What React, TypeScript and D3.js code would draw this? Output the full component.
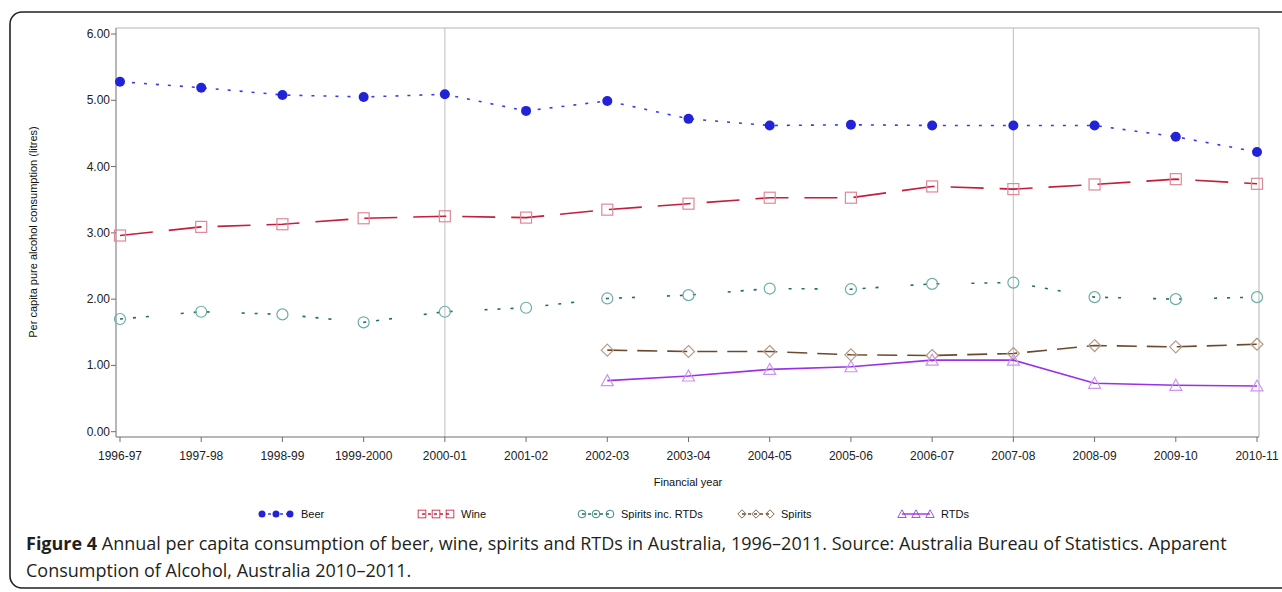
import React from "react";
import * as d3 from "d3";

// financial years on the x axis
const years = [
  "1996-97", "1997-98", "1998-99", "1999-2000", "2000-01", "2001-02", "2002-03", "2003-04",
  "2004-05", "2005-06", "2006-07", "2007-08", "2008-09", "2009-10", "2010-11",
];
const beer = [5.28, 5.19, 5.08, 5.05, 5.09, 4.84, 4.99, 4.72, 4.62, 4.63, 4.62, 4.62, 4.62, 4.45, 4.22];
const wine = [2.96, 3.09, 3.13, 3.22, 3.25, 3.23, 3.35, 3.44, 3.53, 3.53, 3.70, 3.66, 3.73, 3.81, 3.74];
const spiritsIncRtds = [1.70, 1.81, 1.77, 1.65, 1.81, 1.87, 2.01, 2.06, 2.16, 2.15, 2.23, 2.25, 2.03, 2.00, 2.03];
// spirits and RTDs start at 2002-03
const spirits = [null, null, null, null, null, null, 1.23, 1.21, 1.21, 1.16, 1.15, 1.18, 1.30, 1.28, 1.32];
const rtds = [null, null, null, null, null, null, 0.77, 0.84, 0.94, 0.98, 1.08, 1.08, 0.73, 0.70, 0.69];
const yTicks = [0, 1, 2, 3, 4, 5, 6];
const refYears = ["2000-01", "2007-08"];

const W = 1282;
const H = 592;
const plot = { left: 116, right: 1259, top: 28, bottom: 437 };

type Series = {
  name: string;
  values: (number | null)[];
  line: string;
  dash: string;
  marker: string;
  shape: "dot" | "square" | "circle" | "diamond" | "triangle";
  legendX: number;
};

const series: Series[] = [
  { name: "Beer", values: beer, line: "#3a3ae8", dash: "3 9", marker: "#2222d8", shape: "dot", legendX: 262 },
  { name: "Wine", values: wine, line: "#c41e3a", dash: "33 16", marker: "#e08898", shape: "square", legendX: 422 },
  { name: "Spirits inc. RTDs", values: spiritsIncRtds, line: "#1e6e68", dash: "3 10 3 10 3 32", marker: "#6aaea6", shape: "circle", legendX: 582 },
  { name: "Spirits", values: spirits, line: "#6b4a2e", dash: "20 10", marker: "#b89a86", shape: "diamond", legendX: 742 },
  { name: "RTDs", values: rtds, line: "#9b30e6", dash: "none", marker: "#cc95f2", shape: "triangle", legendX: 902 },
];

const Marker = ({ shape, x, y, color }: { shape: Series["shape"]; x: number; y: number; color: string }) => {
  if (shape === "dot") return <circle cx={x} cy={y} r={5} fill={color} />;
  if (shape === "circle") return <circle cx={x} cy={y} r={5.5} fill="none" stroke={color} strokeWidth={1.2} />;
  if (shape === "square")
    return <rect x={x - 5.5} y={y - 5.5} width={11} height={11} fill="none" stroke={color} strokeWidth={1.2} />;
  if (shape === "diamond")
    return <path d={`M${x},${y - 6}L${x + 6},${y}L${x},${y + 6}L${x - 6},${y}Z`} fill="none" stroke={color} strokeWidth={1.2} />;
  return <path d={`M${x},${y - 6}L${x + 6},${y + 5}L${x - 6},${y + 5}Z`} fill="none" stroke={color} strokeWidth={1.2} />;
};

export default function App() {
  const x = d3.scalePoint<string>().domain(years).range([120, 1257]);
  const y = d3.scaleLinear().domain([0, 6]).range([431.7, 34]);

  const line = d3
    .line<number | null>()
    .defined((d) => d !== null)
    .x((_, i) => x(years[i]) as number)
    .y((d) => y(d as number));

  const tickFont = { fontFamily: "'Liberation Sans', Arial, sans-serif", fontSize: 12, fill: "#222" };
  const smallFont = { fontFamily: "'Liberation Sans', Arial, sans-serif", fontSize: 11, fill: "#111" };
  const captionFont = { fontFamily: "'Open Sans', 'Noto Sans', sans-serif", fontSize: 18, fill: "#231f20" };
  const legendY = 514;

  return (
    <div style={{ position: "absolute", left: 0, top: 0 }}>
      <svg width={W} height={H} style={{ display: "block", background: "#fff" }}>
        {/* outer figure frame */}
        <rect x={10} y={12} width={1310} height={576} rx={12} fill="none" stroke="#222" strokeWidth={1.6} />

        {/* reference grid lines */}
        {refYears.map((yr) => (
          <line key={yr} x1={x(yr)} x2={x(yr)} y1={plot.top} y2={plot.bottom} stroke="#c8c8c8" strokeWidth={1.2} />
        ))}

        {/* plot frame */}
        <line x1={plot.left} x2={plot.right} y1={plot.top} y2={plot.top} stroke="#b4b4b4" />
        <line x1={plot.right} x2={plot.right} y1={plot.top} y2={plot.bottom} stroke="#b4b4b4" />
        <line x1={plot.left} x2={plot.left} y1={plot.top} y2={plot.bottom} stroke="#6e6e6e" />
        <line x1={plot.left} x2={plot.right} y1={plot.bottom} y2={plot.bottom} stroke="#6e6e6e" />

        {/* y axis */}
        {yTicks.map((t) => (
          <g key={t}>
            <line x1={plot.left - 5} x2={plot.left} y1={y(t)} y2={y(t)} stroke="#6e6e6e" />
            <text x={110} y={y(t) + 4} textAnchor="end" {...tickFont}>
              {d3.format(".2f")(t)}
            </text>
          </g>
        ))}

        {/* x axis */}
        {years.map((yr) => (
          <g key={yr}>
            <line x1={x(yr)} x2={x(yr)} y1={plot.bottom} y2={plot.bottom + 5} stroke="#6e6e6e" />
            <text x={x(yr)} y={460} textAnchor="middle" {...tickFont}>
              {yr}
            </text>
          </g>
        ))}

        <text x={688} y={486} textAnchor="middle" {...smallFont}>
          Financial year
        </text>
        <text transform="translate(37,232) rotate(-90)" textAnchor="middle" {...smallFont}>
          Per capita pure alcohol consumption (litres)
        </text>

        {/* series */}
        {series.map((s) => (
          <g key={s.name}>
            <path d={line(s.values) || ""} fill="none" stroke={s.line} strokeWidth={1.6} strokeDasharray={s.dash} />
            {s.values.map((v, i) =>
              v === null ? null : <Marker key={i} shape={s.shape} x={x(years[i]) as number} y={y(v)} color={s.marker} />
            )}
          </g>
        ))}

        {/* legend */}
        {series.map((s) => (
          <g key={s.name}>
            <line x1={s.legendX} x2={s.legendX + 28} y1={legendY} y2={legendY} stroke={s.line} strokeWidth={1.4}
              strokeDasharray={s.dash === "none" ? "none" : "3 3"} />
            {[0, 14, 28].map((dx) => (
              <g key={dx} transform={`translate(${s.legendX + dx},${legendY}) scale(0.7) translate(${-(s.legendX + dx)},${-legendY})`}>
                <Marker shape={s.shape} x={s.legendX + dx} y={legendY} color={s.shape === "dot" ? s.marker : s.line} />
              </g>
            ))}
            <text x={s.legendX + 39} y={legendY + 4} {...smallFont}>
              {s.name}
            </text>
          </g>
        ))}

        {/* caption */}
        <text x={26} y={550} {...captionFont}>
          <tspan fontWeight="bold">Figure 4</tspan>
          <tspan> Annual per capita consumption of beer, wine, spirits and RTDs in Australia, 1996–2011. Source: Australia Bureau of Statistics. Apparent</tspan>
        </text>
        <text x={26} y={577} {...captionFont}>
          Consumption of Alcohol, Australia 2010–2011.
        </text>
      </svg>
    </div>
  );
}
